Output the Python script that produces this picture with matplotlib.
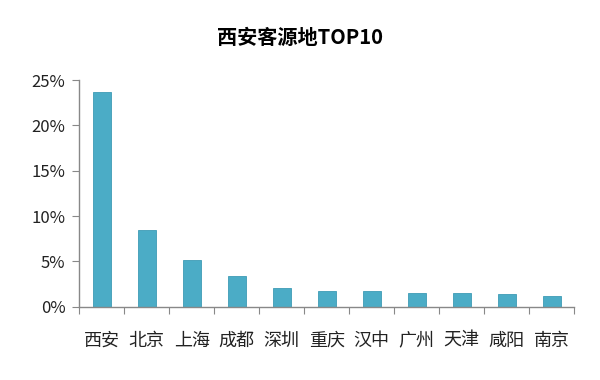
import matplotlib.pyplot as plt
from matplotlib.ticker import FuncFormatter, FixedLocator
import numpy as np

plt.rcParams['font.family'] = ['Noto Sans CJK SC', 'DejaVu Sans']

# 数据
cities = ['西安', '北京', '上海', '成都', '深圳', '重庆', '汉中', '广州', '天津', '咸阳', '南京']
share = [23.7, 8.5, 5.2, 3.4, 2.05, 1.75, 1.75, 1.55, 1.55, 1.4, 1.2]

fig = plt.figure(figsize=(6, 3.8), dpi=100)
ax = fig.add_axes([0.132, 0.193, 0.825, 0.596])

x = np.arange(len(cities))
ax.bar(x, share, width=0.4, color='#4BACC6', edgecolor='#3E9BB5', linewidth=0.6)

ax.set_xlim(-0.5, len(cities) - 0.5)
ax.set_ylim(0, 25)
ax.set_yticks([0, 5, 10, 15, 20, 25])
ax.yaxis.set_major_formatter(FuncFormatter(lambda v, p: f'{v:.0f}%'))

# x 轴刻度在类别之间，标签居中
ax.xaxis.set_major_locator(FixedLocator(np.arange(-0.5, len(cities), 1.0)))
ax.set_xticklabels([''] * (len(cities) + 1))
ax.set_xticks(x, minor=True)
ax.set_xticklabels(cities, minor=True, fontsize=13, color='#222222')
ax.tick_params(axis='x', which='major', length=5, color='#888888')
ax.tick_params(axis='x', which='minor', length=0, pad=18)
ax.tick_params(axis='y', length=5, color='#888888', labelsize=12, labelcolor='#222222', pad=5)

for s in ['top', 'right']:
    ax.spines[s].set_visible(False)
for s in ['left', 'bottom']:
    ax.spines[s].set_color('#888888')
    ax.spines[s].set_linewidth(1.0)

fig.text(0.5, 0.902, '西安客源地TOP10', ha='center', va='center', fontsize=14.5, fontweight='bold')

fig.savefig('out.png', dpi=100)
